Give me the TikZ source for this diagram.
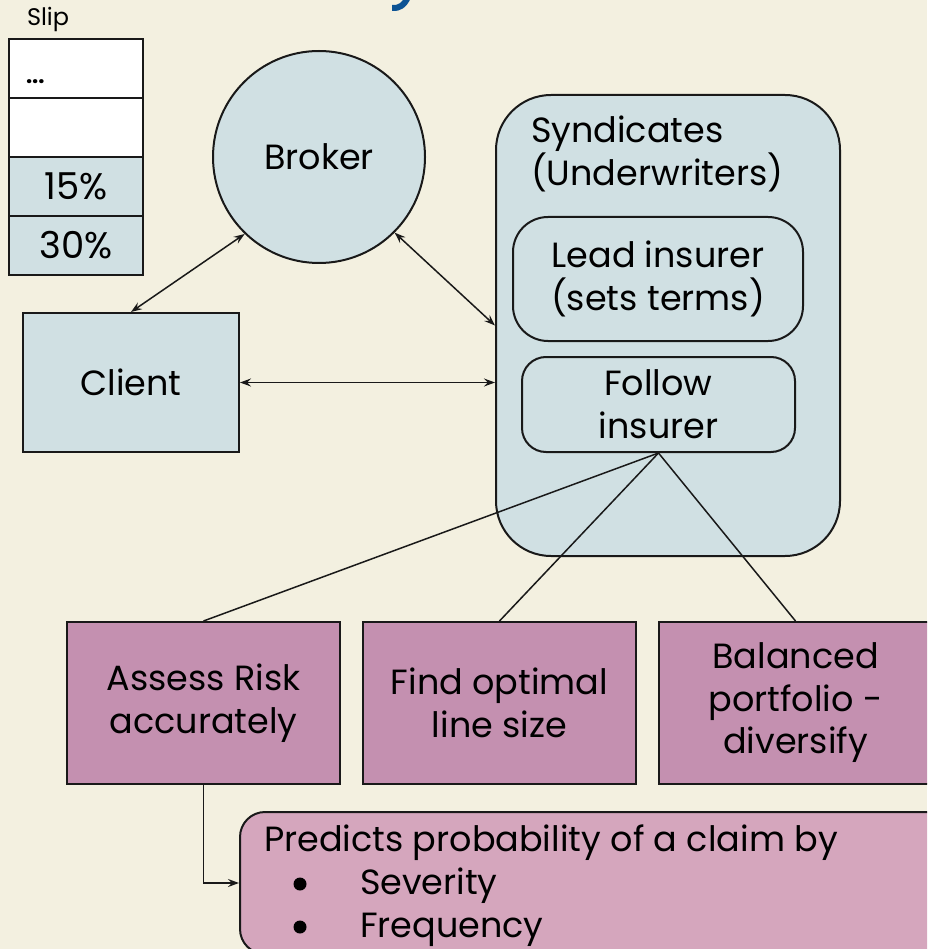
\documentclass[tikz,border=0pt]{standalone}
\usepackage{fontspec}
\setmainfont{Poppins}
\usetikzlibrary{arrows.meta,calc}
\definecolor{paper}{RGB}{243,240,224}
\definecolor{lblue}{RGB}{208,224,227}
\definecolor{mauve}{RGB}{196,144,176}
\definecolor{pink}{RGB}{213,166,189}
\definecolor{titleblue}{RGB}{12,83,148}
\newcommand\mainsize{\fontsize{35}{43}\selectfont}
\newcommand\boxsize{\fontsize{35}{42.5}\selectfont}
\newcommand\slipsize{\fontsize{37}{43}\selectfont}
\tikzset{
  outline/.style={draw=black!90, line width=2pt},
  bluebox/.style={outline, fill=lblue, inner sep=0pt, align=center, font=\mainsize},
  taskbox/.style={outline, fill=mauve, inner sep=0pt, minimum width=273pt,
                  minimum height=162pt, align=center, font=\boxsize},
  slipcell/.style={outline, inner sep=0pt, minimum width=134pt, minimum height=59pt},
  link/.style={draw=black!90, line width=1.5pt},
  twoway/.style={link, {Stealth[length=11pt,width=8pt,inset=4pt]}-{Stealth[length=11pt,width=8pt,inset=4pt]}},
  oneway/.style={link, -{Stealth[length=11pt,width=8pt,inset=4pt]}},
  plain/.style={inner sep=0pt, outer sep=0pt}
}
\begin{document}
\begin{tikzpicture}[x=1pt,y=-1pt]
  % canvas
  \fill[paper] (0,0) rectangle (927,949);
  \useasboundingbox (0,0) rectangle (927,949);
  \begin{scope}
  \clip (0,0) rectangle (927,949);

  % tail of the heading letter reaching down into the canvas
  \draw[titleblue, line width=6pt, line cap=butt] (392,8) .. controls (400,8.5) and (404,5) .. (407.5,-2);

  % the slip
  \node[plain, anchor=base west, font=\fontsize{24}{28}\selectfont] (sliplabel) at (27,26) {Slip};
  \node[slipcell, fill=white] (row1) at (76,68.5) {};
  \node[slipcell, fill=white] (row2) at (76,127.5) {};
  \node[slipcell, fill=lblue, font=\slipsize] (row3) at (76,186.5) {15\%};
  \node[slipcell, fill=lblue, font=\slipsize] (row4) at (76,245.5) {30\%};
  \node[plain, anchor=base west, font=\fontsize{22}{26}\selectfont\bfseries] (dots) at (26,84) {...};

  % parties
  \node[bluebox, circle, minimum size=212pt] (broker) at (319,157) {Broker};
  \node[bluebox, minimum width=216pt, minimum height=139pt] (client) at (131,382.5) {Client};
  \node[bluebox, rounded corners=55pt, minimum width=344pt, minimum height=461pt] (synd) at (668,325.5) {};
  \node[plain, anchor=base west, align=left, font=\mainsize] (syndtitle) at (531,186)
       {Syndicates\\(Underwriters)};
  \node[bluebox, rounded corners=35pt, minimum width=290pt, minimum height=124pt] (lead) at (658,279)
       {Lead insurer\\(sets terms)};
  \node[bluebox, rounded corners=24pt, minimum width=273pt, minimum height=95pt] (follow) at (658.5,404.5)
       {Follow\\insurer};

  % goals of the follow insurer
  \node[taskbox] (assess) at (203.5,703) {Assess Risk\\accurately};
  \node[taskbox] (find) at (499.5,703) {Find optimal\\line size};
  \node[taskbox] (balanced) at (795.5,703) {Balanced\\portfolio -\\diversify};

  % risk assessment detail
  \node[outline, fill=pink, rounded corners=25pt, minimum width=760pt, minimum height=142pt,
        anchor=north west] (predict) at (239,811) {};
  \node[plain, anchor=base west, font=\boxsize] (ptext) at (264,851) {Predicts probability of a claim by};
  \node[plain, anchor=base west, font=\boxsize] (sev) at (360,894) {Severity};
  \node[plain, anchor=base west, font=\boxsize] (freq) at (360,937) {Frequency};
  \fill[black] (300,884) circle (6.5pt);
  \fill[black] (300,927) circle (6.5pt);

  % connectors
  \draw[twoway] (client.north) -- (broker.226);
  \draw[twoway] (broker.-45) -- (synd.west);
  \draw[twoway] (client.east) -- (client.east -| synd.west);
  \draw[link] (follow.south) -- (assess.north);
  \draw[link] (follow.south) -- (find.north);
  \draw[link] (follow.south) -- (balanced.north);
  \draw[oneway] (assess.south) |- (predict.west);
  \end{scope}
\end{tikzpicture}
\end{document}
